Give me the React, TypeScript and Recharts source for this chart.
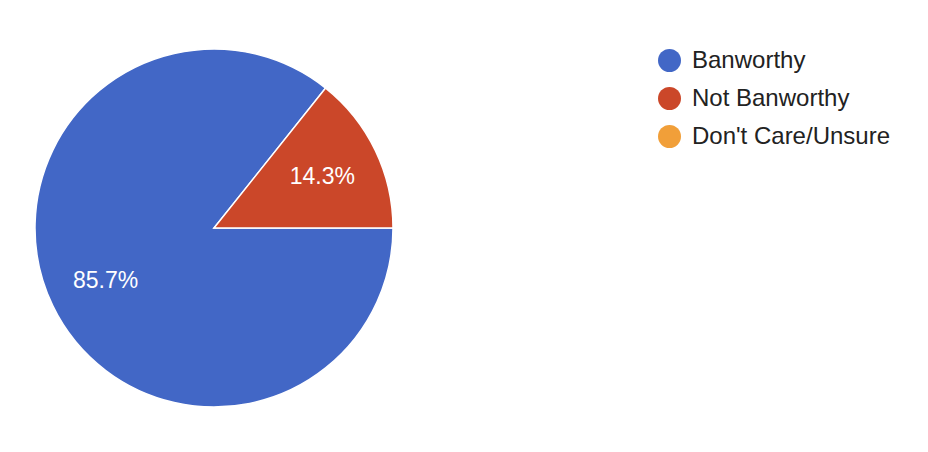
import React from "react";
import { PieChart, Pie, Cell, Legend } from "recharts";

const categories = ["Banworthy", "Not Banworthy", "Don't Care/Unsure"];
const counts = [6, 1, 0];
const colors = ["#4267C6", "#CB4729", "#F19F39"];

const data = categories.map((name, i) => ({ name, value: counts[i] }));
const total = counts.reduce((a, b) => a + b, 0);

const FONT = "'Liberation Sans', Arial, Helvetica, sans-serif";
const RAD = Math.PI / 180;

const renderLabel = (props: any) => {
  const { cx, cy, midAngle, outerRadius, value } = props;
  if (!value) return null;
  const r = outerRadius * 0.672;
  const x = cx + r * Math.cos(-midAngle * RAD);
  const y = cy + r * Math.sin(-midAngle * RAD);
  return (
    <text
      x={x}
      y={y}
      fill="#ffffff"
      textAnchor="middle"
      dominantBaseline="central"
      fontSize={23}
      fontFamily={FONT}
    >
      {((value / total) * 100).toFixed(1) + "%"}
    </text>
  );
};

const renderLegend = () => (
  <div style={{ fontFamily: FONT }}>
    {data.map((d, i) => (
      <div
        key={d.name}
        style={{ display: "flex", alignItems: "center", height: 38 }}
      >
        <span
          style={{
            display: "inline-block",
            width: 23,
            height: 23,
            borderRadius: "50%",
            background: colors[i],
            marginRight: 11,
            flexShrink: 0,
          }}
        />
        <span
          style={{
            fontSize: 24,
            color: "#222222",
            lineHeight: "38px",
            whiteSpace: "nowrap",
          }}
        >
          {d.name}
        </span>
      </div>
    ))}
  </div>
);

export default function App() {
  return (
    <PieChart
      width={920}
      height={436}
      margin={{ top: 0, right: 0, bottom: 0, left: 0 }}
    >
      <Pie
        data={data}
        dataKey="value"
        nameKey="name"
        cx={206}
        cy={220}
        outerRadius={179}
        startAngle={0}
        endAngle={-360}
        stroke="#ffffff"
        strokeWidth={1.5}
        label={renderLabel}
        labelLine={false}
        isAnimationActive={false}
      >
        {data.map((d, i) => (
          <Cell key={d.name} fill={colors[i]} />
        ))}
      </Pie>
      <Legend
        content={renderLegend}
        layout="vertical"
        verticalAlign="top"
        align="right"
        wrapperStyle={{ position: "absolute", left: 650, top: 33, width: 270 }}
      />
    </PieChart>
  );
}
